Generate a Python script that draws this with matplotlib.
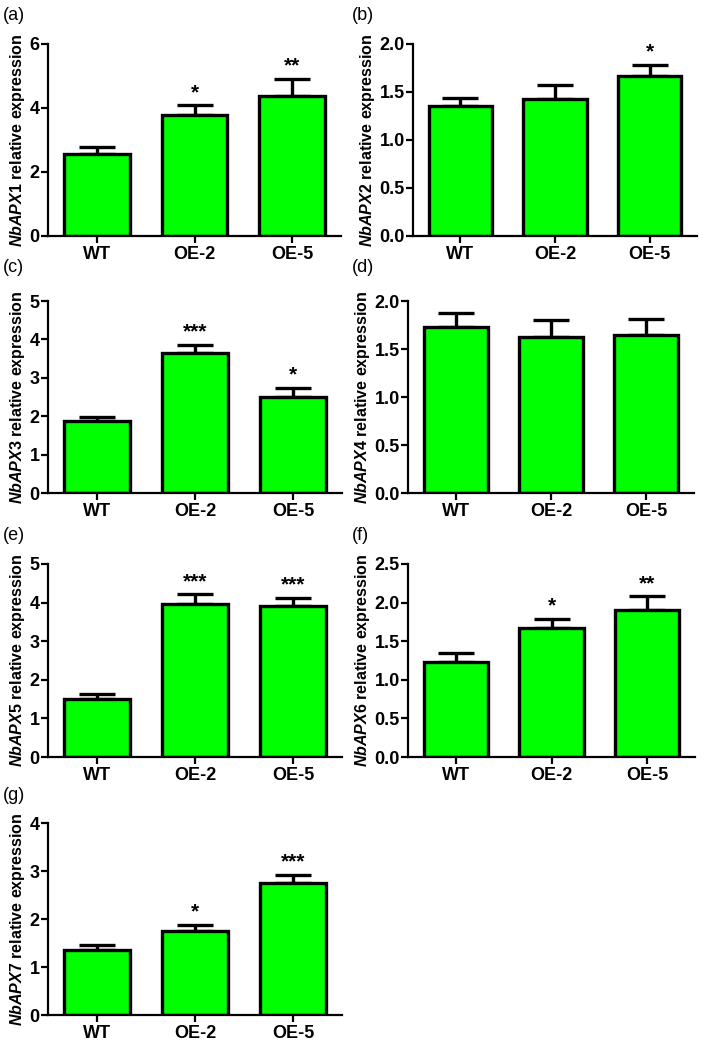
import numpy as np
import matplotlib
matplotlib.use("Agg")
import matplotlib.pyplot as plt

plt.rcParams['font.family'] = ['Liberation Sans', 'DejaVu Sans']
plt.rcParams['mathtext.fontset'] = 'custom'
plt.rcParams['mathtext.it'] = 'Liberation Sans:italic:bold'
plt.rcParams['mathtext.rm'] = 'Liberation Sans:bold'
plt.rcParams['mathtext.bf'] = 'Liberation Sans:bold'

# Data (mean and upper error)
lines = ['WT', 'OE-2', 'OE-5']
genes = ['NbAPX1', 'NbAPX2', 'NbAPX3', 'NbAPX4', 'NbAPX5', 'NbAPX6', 'NbAPX7']
panel_tags = ['(a)', '(b)', '(c)', '(d)', '(e)', '(f)', '(g)']

apx1_mean = [2.56, 3.77, 4.38]
apx1_err = [0.22, 0.31, 0.52]
apx2_mean = [1.35, 1.43, 1.67]
apx2_err = [0.09, 0.14, 0.11]
apx3_mean = [1.88, 3.65, 2.50]
apx3_err = [0.10, 0.21, 0.24]
apx4_mean = [1.73, 1.62, 1.65]
apx4_err = [0.15, 0.18, 0.16]
apx5_mean = [1.49, 3.97, 3.92]
apx5_err = [0.13, 0.24, 0.20]
apx6_mean = [1.23, 1.67, 1.90]
apx6_err = [0.12, 0.12, 0.18]
apx7_mean = [1.35, 1.75, 2.74]
apx7_err = [0.11, 0.13, 0.17]

apx1_sig = ['', '*', '**']
apx2_sig = ['', '', '*']
apx3_sig = ['', '***', '*']
apx4_sig = ['', '', '']
apx5_sig = ['', '***', '***']
apx6_sig = ['', '*', '**']
apx7_sig = ['', '*', '***']

y_ticks = [[0, 2, 4, 6], [0.0, 0.5, 1.0, 1.5, 2.0], [0, 1, 2, 3, 4, 5],
           [0.0, 0.5, 1.0, 1.5, 2.0], [0, 1, 2, 3, 4, 5],
           [0.0, 0.5, 1.0, 1.5, 2.0, 2.5], [0, 1, 2, 3, 4]]

means = [apx1_mean, apx2_mean, apx3_mean, apx4_mean, apx5_mean, apx6_mean, apx7_mean]
errs = [apx1_err, apx2_err, apx3_err, apx4_err, apx5_err, apx6_err, apx7_err]
sigs = [apx1_sig, apx2_sig, apx3_sig, apx4_sig, apx5_sig, apx6_sig, apx7_sig]

W, H = 709, 1044
fig = plt.figure(figsize=(W / 100, H / 100), dpi=100)

# axes boxes in pixels: left, right, top, bottom
boxes = [(48, 341, 44, 236), (413, 697, 44, 236),
         (48, 342, 301, 493), (408, 694, 301, 493),
         (48, 342, 564, 757), (408, 695, 564, 757),
         (48, 342, 823, 1015)]
tag_pos = [(3, 15), (352, 15), (3, 268), (352, 268), (3, 535), (352, 535), (3, 795)]

green = '#00ff00'
x = np.arange(len(lines))

for i in range(7):
    l, r, t, b = boxes[i]
    ax = fig.add_axes([l / W, 1 - b / H, (r - l) / W, (b - t) / H])
    ax.bar(x, means[i], width=0.67, color=green, edgecolor='black', linewidth=2.4, zorder=2)
    ax.errorbar(x, means[i], yerr=[np.zeros(3), errs[i]], fmt='none', ecolor='black',
                elinewidth=2.4, capsize=13, capthick=2.4, zorder=1)
    for j in range(3):
        if sigs[i][j]:
            ax.annotate(sigs[i][j], (x[j], means[i][j] + errs[i][j]), xytext=(0, 2.5),
                        textcoords='offset points', ha='center', va='bottom',
                        fontsize=15, fontweight='bold')
    yt = y_ticks[i]
    ax.set_ylim(0, yt[-1])
    ax.set_xlim(-0.5, 2.5)
    ax.set_yticks(yt)
    if isinstance(yt[1], float):
        ax.set_yticklabels([f'{v:.1f}' for v in yt])
    else:
        ax.set_yticklabels([str(v) for v in yt])
    ax.set_xticks(x)
    ax.set_xticklabels(lines)
    for lab in ax.get_xticklabels() + ax.get_yticklabels():
        lab.set_fontweight('bold')
        lab.set_fontsize(13)
    ax.spines['top'].set_visible(False)
    ax.spines['right'].set_visible(False)
    ax.spines['left'].set_linewidth(1.6)
    ax.spines['bottom'].set_linewidth(1.6)
    ax.tick_params(axis='y', width=1.6, length=5, pad=1)
    ax.tick_params(axis='x', width=1.6, length=5, pad=2)
    ax.set_ylabel(r'$\mathit{' + genes[i] + r'}$ relative expression',
                  fontsize=11.5, fontweight='bold', labelpad=1.5)
    tx, ty = tag_pos[i]
    fig.text(tx / W, 1 - ty / H, panel_tags[i], fontsize=13, ha='left', va='center')

fig.savefig('out.png', dpi=100)
